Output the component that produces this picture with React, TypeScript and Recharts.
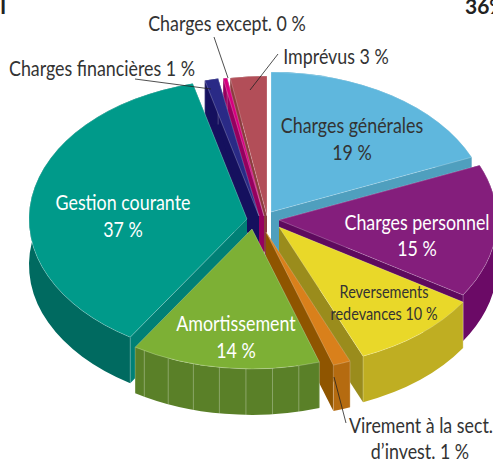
import { PieChart, Pie } from "recharts";

// clockwise from 12 o'clock
const names = [
  "Charges générales",
  "Charges personnel",
  "Reversements redevances",
  "Virement à la sect. d'invest.",
  "Amortissement",
  "Gestion courante",
  "Charges financières",
  "Charges except.",
  "Imprévus",
];
const values = [18.6, 15.4, 9.7, 1.3, 14, 37, 1, 0.3, 2.7];
const data = names.map((name, i) => ({ name, value: values[i] }));

const TOP = ["#5fb7dd", "#841e7c", "#e9d829", "#d9801b", "#7db035", "#009a8a", "#2a2a86", "#d6007f", "#b24e58"];
const CUT = ["#4f9fbe", "#5e0a5e", "#9a8c1c", "#8f5500", "#5a8028", "#008076", "#15105e", "#95005f", "#8a3b3d"];
const RIM = ["#4f9fbe", "#6b0a66", "#bfae22", "#b56b10", "#5a8028", "#006a60", "#15105e", "#95005f", "#8a3b3d"];
// how far each slice is pulled out of the centre
const EXPLODE = [[9, -8], [17, 0], [17, 7], [4, 12], [-10, 9], [-15, -1], [-3, -4], [2, -4], [5, -4]];
// back to front
const PAINT = [8, 7, 6, 0, 1, 2, 3, 5, 4];

const SQUASH = 0.642;
const DEPTH = 46;
const AMORT_FACET_STEP = 7;
const NARROW = 0.85; // no condensed face installed, so Lato gets squeezed

const labels = [
  { t: "Charges except. 0 %", x: 227, y: 31, s: 21, c: "#333" },
  { t: "Imprévus 3 %", x: 336, y: 64, s: 21, c: "#333" },
  { t: "Charges financières 1 %", x: 102, y: 76, s: 21, c: "#333" },
  { t: "Charges générales", x: 352, y: 133, s: 21, c: "#333" },
  { t: "19 %", x: 352, y: 160, s: 21, c: "#333" },
  { t: "Gestion courante", x: 123, y: 210, s: 21, c: "#fff" },
  { t: "37 %", x: 123, y: 237, s: 21, c: "#fff" },
  { t: "Charges personnel", x: 417, y: 230, s: 21, c: "#fff" },
  { t: "15 %", x: 417, y: 256, s: 21, c: "#fff" },
  { t: "Reversements", x: 384, y: 298, s: 17, c: "#333" },
  { t: "redevances 10 %", x: 384, y: 320, s: 17, c: "#333" },
  { t: "Amortissement", x: 236, y: 331, s: 21, c: "#fff" },
  { t: "14 %", x: 236, y: 358, s: 21, c: "#fff" },
  { t: "Virement à la sect.", x: 421, y: 433, s: 21, c: "#333" },
  { t: "d’invest. 1 %", x: 420, y: 459, s: 21, c: "#333" },
];

const leaders = [
  [135, 79, 211, 89],
  [214, 37, 228, 78],
  [278, 54, 250, 90],
  [334, 377, 346, 423],
];

function Slice(props: any) {
  const { cx, cy, outerRadius, startAngle, endAngle, index } = props;
  const [dx, dy] = EXPLODE[index];
  const x0 = cx + dx;
  const y0 = cy + dy;
  const rx = outerRadius;
  const ry = outerRadius * SQUASH;
  const pt = (deg: number) => {
    const a = (deg * Math.PI) / 180;
    return [x0 + rx * Math.cos(a), y0 - ry * Math.sin(a)];
  };
  const large = Math.abs(startAngle - endAngle) > 180 ? 1 : 0;
  const [sx, sy] = pt(startAngle);
  const [ex, ey] = pt(endAngle);
  const edge = { stroke: "#fff", strokeOpacity: 0.4, strokeWidth: 0.6 };

  const facets: number[] = [];
  if (index === 4) {
    // the amortissement rim is split in narrow panels in the original
    for (let a = endAngle + AMORT_FACET_STEP * 0.4; a < startAngle; a += AMORT_FACET_STEP) facets.push(a);
  }

  return (
    <g>
      <path d={`M${x0},${y0} L${sx},${sy} L${sx},${sy + DEPTH} L${x0},${y0 + DEPTH} Z`} fill={CUT[index]} />
      <path d={`M${x0},${y0} L${ex},${ey} L${ex},${ey + DEPTH} L${x0},${y0 + DEPTH} Z`} fill={CUT[index]} />
      <path
        d={`M${sx},${sy} A${rx},${ry} 0 ${large} 1 ${ex},${ey} L${ex},${ey + DEPTH} A${rx},${ry} 0 ${large} 0 ${sx},${sy + DEPTH} Z`}
        fill={RIM[index]}
      />
      <line x1={sx} y1={sy} x2={sx} y2={sy + DEPTH} {...edge} />
      <line x1={ex} y1={ey} x2={ex} y2={ey + DEPTH} {...edge} />
      {facets.map((a) => {
        const [fx, fy] = pt(a);
        return <line key={a} x1={fx} y1={fy} x2={fx} y2={fy + DEPTH} {...edge} strokeOpacity={0.5} />;
      })}
      <path d={`M${x0},${y0} L${sx},${sy} A${rx},${ry} 0 ${large} 1 ${ex},${ey} Z`} fill={TOP[index]} {...edge} />
    </g>
  );
}

export default function App() {
  return (
    <div style={{ position: "absolute", left: 0, top: 0, width: 493, height: 461, overflow: "hidden", background: "#fff" }}>
      <PieChart width={493} height={461} margin={{ top: 0, right: 0, bottom: 0, left: 0 }}>
        {PAINT.map((k) => (
          <Pie
            key={k}
            data={data}
            dataKey="value"
            nameKey="name"
            cx={262}
            cy={220}
            outerRadius={218}
            startAngle={90}
            endAngle={-270}
            stroke="none"
            isAnimationActive={false}
            shape={(p: any) => (p.index === k ? <Slice {...p} /> : <g />)}
          />
        ))}
      </PieChart>
      {/* recharts paints its pies above any svg child, so the texts sit in their own layer */}
      <svg width={493} height={461} style={{ position: "absolute", left: 0, top: 0 }}>
        {leaders.map(([x1, y1, x2, y2], i) => (
          <line key={i} x1={x1} y1={y1} x2={x2} y2={y2} stroke="#222" strokeWidth={0.8} />
        ))}
        {labels.map((l) => (
          <text
            key={l.t}
            transform={`translate(${l.x},${l.y}) scale(${NARROW},1)`}
            textAnchor="middle"
            fill={l.c}
            fontFamily="Lato, 'Open Sans', sans-serif"
            fontSize={l.s}
          >
            {l.t}
          </text>
        ))}
        <text x={0} y={14} fill="#222" fontFamily="Lato, sans-serif" fontWeight={700} fontSize={21}>I</text>
        <text x={465} y={14} fill="#222" fontFamily="Lato, sans-serif" fontWeight={700} fontSize={21}>36%</text>
      </svg>
    </div>
  );
}
